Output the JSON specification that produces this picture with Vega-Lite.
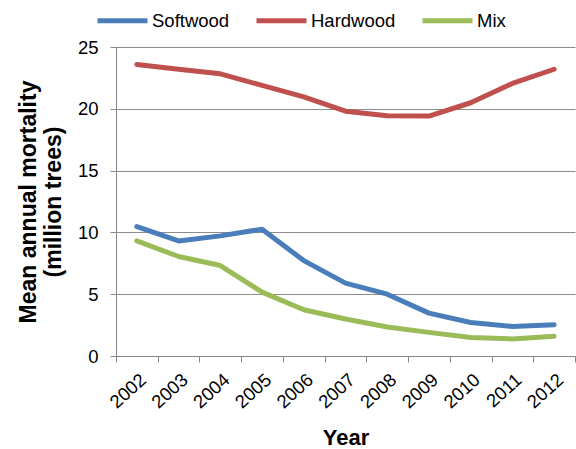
{
  "$schema": "https://vega.github.io/schema/vega-lite/v6.json",
  "autosize": "none",
  "padding": {"left": 116, "top": 47, "right": 1, "bottom": 93},
  "width": 459,
  "height": 309,
  "config": {
    "font": "Liberation Sans",
    "view": {"stroke": null},
    "background": "white"
  },
  "data": {
    "values": [
      {"Year": "2002", "Type": "Softwood", "Mortality": 10.47},
      {"Year": "2003", "Type": "Softwood", "Mortality": 9.31},
      {"Year": "2004", "Type": "Softwood", "Mortality": 9.72},
      {"Year": "2005", "Type": "Softwood", "Mortality": 10.26},
      {"Year": "2006", "Type": "Softwood", "Mortality": 7.72},
      {"Year": "2007", "Type": "Softwood", "Mortality": 5.9},
      {"Year": "2008", "Type": "Softwood", "Mortality": 5.0},
      {"Year": "2009", "Type": "Softwood", "Mortality": 3.47},
      {"Year": "2010", "Type": "Softwood", "Mortality": 2.71},
      {"Year": "2011", "Type": "Softwood", "Mortality": 2.39},
      {"Year": "2012", "Type": "Softwood", "Mortality": 2.53},
      {"Year": "2002", "Type": "Hardwood", "Mortality": 23.59},
      {"Year": "2003", "Type": "Hardwood", "Mortality": 23.2},
      {"Year": "2004", "Type": "Hardwood", "Mortality": 22.83},
      {"Year": "2005", "Type": "Hardwood", "Mortality": 21.89},
      {"Year": "2006", "Type": "Hardwood", "Mortality": 20.97},
      {"Year": "2007", "Type": "Hardwood", "Mortality": 19.81},
      {"Year": "2008", "Type": "Hardwood", "Mortality": 19.44},
      {"Year": "2009", "Type": "Hardwood", "Mortality": 19.41},
      {"Year": "2010", "Type": "Hardwood", "Mortality": 20.49},
      {"Year": "2011", "Type": "Hardwood", "Mortality": 22.05},
      {"Year": "2012", "Type": "Hardwood", "Mortality": 23.2},
      {"Year": "2002", "Type": "Mix", "Mortality": 9.31},
      {"Year": "2003", "Type": "Mix", "Mortality": 8.05},
      {"Year": "2004", "Type": "Mix", "Mortality": 7.32},
      {"Year": "2005", "Type": "Mix", "Mortality": 5.17},
      {"Year": "2006", "Type": "Mix", "Mortality": 3.74},
      {"Year": "2007", "Type": "Mix", "Mortality": 2.99},
      {"Year": "2008", "Type": "Mix", "Mortality": 2.34},
      {"Year": "2009", "Type": "Mix", "Mortality": 1.91},
      {"Year": "2010", "Type": "Mix", "Mortality": 1.5},
      {"Year": "2011", "Type": "Mix", "Mortality": 1.38},
      {"Year": "2012", "Type": "Mix", "Mortality": 1.6}
    ]
  },
  "mark": {"type": "line", "strokeWidth": 5, "strokeCap": "round", "strokeJoin": "round"},
  "encoding": {
    "x": {
      "field": "Year",
      "type": "ordinal",
      "scale": {"type": "band", "paddingInner": 0, "paddingOuter": 0},
      "axis": {
        "title": "Year",
        "titleFontSize": 22,
        "titleFontWeight": "bold",
        "titleColor": "black",
        "titlePadding": 16,
        "labelAngle": -42,
        "labelFontSize": 18.5,
        "labelColor": "black",
        "labelPadding": 8,
        "tickBand": "extent",
        "tickSize": 6,
        "tickColor": "#868686",
        "domainColor": "#868686",
        "grid": false
      }
    },
    "y": {
      "field": "Mortality",
      "type": "quantitative",
      "scale": {"domain": [0, 25]},
      "axis": {
        "title": ["Mean annual mortality", "(million trees)"],
        "titleFontSize": 23,
        "titleFontWeight": "bold",
        "titleColor": "black",
        "titleLineHeight": 25,
        "titlePadding": 12,
        "values": [0, 5, 10, 15, 20, 25],
        "labelFontSize": 18.5,
        "labelColor": "black",
        "labelPadding": 12,
        "tickSize": 6,
        "tickColor": "#868686",
        "domainColor": "#868686",
        "gridColor": "#8c8c8c",
        "gridWidth": 1.2
      }
    },
    "color": {
      "field": "Type",
      "type": "nominal",
      "scale": {"domain": ["Softwood", "Hardwood", "Mix"], "range": ["#4a7ebb", "#c0504d", "#9bbb59"]},
      "legend": {
        "title": null,
        "orient": "none",
        "direction": "horizontal",
        "legendX": -21,
        "legendY": -54,
        "symbolType": "stroke",
        "symbolSize": 2500,
        "symbolStrokeWidth": 5,
        "labelFontSize": 18.5,
        "labelColor": "black",
        "labelOffset": 2,
        "columnPadding": 16
      }
    }
  }
}
